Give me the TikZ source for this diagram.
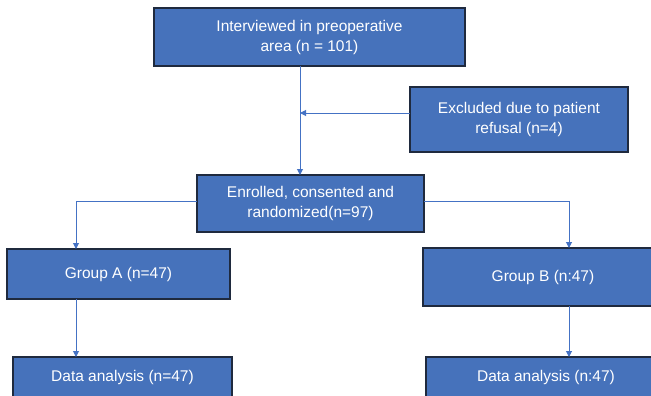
\documentclass[tikz,border=0pt]{standalone}
\usepackage{fontspec}
\setmainfont{Liberation Sans}
\usetikzlibrary{arrows.meta}

\definecolor{boxfill}{HTML}{4672BB}
\definecolor{boxline}{HTML}{1F2A3E}
\definecolor{linkblue}{HTML}{4472C4}

\tikzset{
  flowbox/.style={draw=boxline, fill=boxfill, text=white, line width=1.3pt,
    anchor=north west, inner sep=0pt, outer sep=0pt, align=center,
    font=\fontsize{15.5}{20}\selectfont},
  link/.style={draw=linkblue, line width=1pt, -{Triangle[width=6pt,length=6pt]}}
}

\begin{document}
\begin{tikzpicture}[x=1pt, y=-1pt]
% page size, boxes run over the edge
\useasboundingbox (0,0) rectangle (651,396);
\clip (0,0) rectangle (651,396);

% the boxes
\node[flowbox, minimum width=311pt, minimum height=58pt] (interview) at (154,8)
  {Interviewed in preoperative\\area (n = 101)};
\node[flowbox, minimum width=218pt, minimum height=65pt] (excluded) at (410,87)
  {Excluded due to patient\\refusal (n=4)};
\node[flowbox, minimum width=227pt, minimum height=57pt] (enrolled) at (197,175)
  {Enrolled, consented and\\randomized(n=97)};
\node[flowbox, minimum width=223pt, minimum height=50pt] (groupA) at (7,249)
  {Group A (n=47)};
\node[flowbox, minimum width=240pt, minimum height=58pt] (groupB) at (423,248)
  {Group B (n:47)};
\node[flowbox, minimum width=219pt, minimum height=41pt] (dataA) at (13,357)
  {Data analysis (n=47)};
\node[flowbox, minimum width=240pt, minimum height=41pt] (dataB) at (426,357)
  {Data analysis (n:47)};

% the links
\draw[link] ([xshift=-9.5pt]interview.south) -- ([xshift=-9.5pt]interview.south |- enrolled.north);
\draw[link] ([yshift=6.5pt]excluded.west) -- ([yshift=6.5pt,xshift=-9.5pt]excluded.west -| interview.south);
\draw[link] ([yshift=2.5pt]enrolled.west) -| ([xshift=69pt]groupA.north west);
\draw[link] ([yshift=2.5pt]enrolled.east) -| ([xshift=146pt]groupB.north west);
\draw[link] ([xshift=69pt]groupA.south west) -- ([xshift=69pt]groupA.south west |- dataA.north);
\draw[link] ([xshift=146pt]groupB.south west) -- ([xshift=146pt]groupB.south west |- dataB.north);
\end{tikzpicture}
\end{document}
